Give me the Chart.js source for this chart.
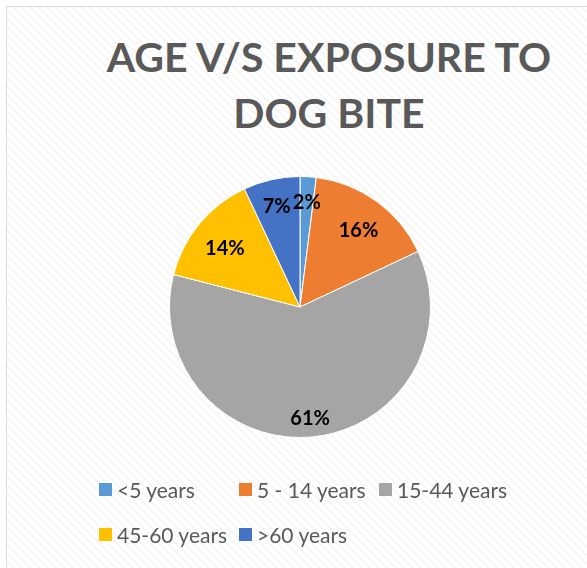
<!DOCTYPE html>
<html>
<head>
<meta charset="utf-8">
<script src="https://cdn.jsdelivr.net/npm/chart.js@4"></script>
<style>
  html, body { margin: 0; padding: 0; background: #fff; }
  #wrap { position: relative; width: 587px; height: 568px; overflow: hidden; }
  #frame {
    position: absolute; left: 6px; top: 6px; width: 620px; height: 620px;
    border: 1px solid #d9d9d9;
    background: repeating-linear-gradient(45deg, #ffffff 0px, #ffffff 3px, #f3f3f3 4.5px, #ffffff 6px);
  }
  #title {
    position: absolute; left: 29px; width: 600px; top: 29px;
    text-align: center; white-space: nowrap;
    font-family: Lato, sans-serif; font-weight: bold; font-size: 41px; line-height: 56px;
    color: #595959;
  }
  #chart { position: absolute; left: 0; top: 0; }
  #legend {
    position: absolute; left: 99px; top: 477px;
    display: grid; grid-template-columns: 140px 140px 140px; row-gap: 20px;
    font-family: Lato, sans-serif; font-size: 21px; color: #595959;
  }
  .item { display: flex; align-items: center; white-space: nowrap; }
  .box { width: 13px; height: 13px; margin-right: 5px; flex: none; }
</style>
</head>
<body>
<div id="wrap">
  <div id="frame"></div>
  <div id="title"></div>
  <canvas id="chart" width="587" height="568"></canvas>
  <div id="legend"></div>
</div>
<script>
const titleLines = ['AGE V/S EXPOSURE TO', 'DOG BITE'];
const ageGroups = ['<5 years', '5 - 14 years', '15-44 years', '45-60 years', '>60 years'];
const sharePct = [2, 16, 61, 14, 7];
const sliceColors = ['#5b9bd5', '#ed7d31', '#a5a5a5', '#ffc000', '#4472c4'];

// percentage labels placed "inside end" like Excel does
const sliceLabels = {
  id: 'sliceLabels',
  afterDatasetsDraw(chart) {
    const ctx = chart.ctx;
    const arcs = chart.getDatasetMeta(0).data;
    const total = sharePct.reduce((a, b) => a + b, 0);
    ctx.save();
    ctx.font = 'bold 20px Lato, sans-serif';
    ctx.fillStyle = '#000';
    ctx.textAlign = 'center';
    ctx.textBaseline = 'middle';
    arcs.forEach((arc, i) => {
      const { x, y, startAngle, endAngle, outerRadius } = arc.getProps(['x', 'y', 'startAngle', 'endAngle', 'outerRadius'], true);
      const mid = (startAngle + endAngle) / 2;
      const text = Math.round(sharePct[i] / total * 100) + '%';
      const hw = ctx.measureText(text).width / 2;
      const hh = 9;
      const cx = Math.cos(mid), cy = Math.sin(mid);
      const d = outerRadius - 12 - (hw * Math.abs(cx) + hh * Math.abs(cy));
      ctx.fillText(text, x + cx * d, y + cy * d + 4);
    });
    ctx.restore();
  }
};

const chart = new Chart(document.getElementById('chart'), {
  type: 'pie',
  data: {
    labels: ageGroups,
    datasets: [{
      data: sharePct,
      backgroundColor: sliceColors,
      borderColor: '#ffffff',
      borderWidth: 1,
    }],
  },
  options: {
    responsive: false,
    animation: false,
    layout: { padding: { left: 13, right: 0, top: 176, bottom: 130 } },
    plugins: {
      legend: { display: false },
      tooltip: { enabled: false },
      title: { display: false },
    },
  },
  plugins: [sliceLabels],
});

document.getElementById('title').innerHTML = titleLines.join('<br>');

// html legend laid out in Excel-style columns
document.getElementById('legend').innerHTML = ageGroups.map((g, i) => `
  <div class="item"><span class="box" style="background:${sliceColors[i]}"></span>${g}</div>
`).join('');
</script>
</body>
</html>
